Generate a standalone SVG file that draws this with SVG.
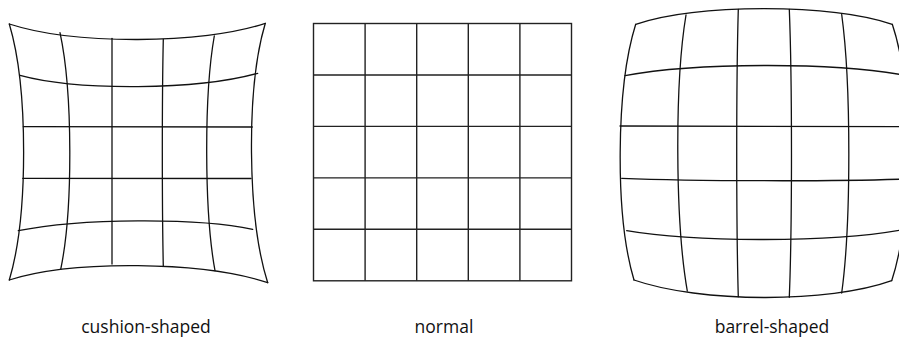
<svg xmlns="http://www.w3.org/2000/svg" width="899" height="338" viewBox="0 0 899 338">
<style>
.g{fill:none;stroke:#111;stroke-width:1.3;stroke-linecap:round}
.n{fill:none;stroke:#222;stroke-width:1.4}
.lbl{font-family:"Open Sans","Noto Sans",sans-serif;font-size:17.5px;fill:#111;text-anchor:middle}
</style>
<rect width="899" height="338" fill="#fff"/>
<g id="cushion">
<path class="g" d="M9.3,24 C74.2,45 202.2,44.6 265.3,23.3"/>
<path class="g" d="M20,75.3 C78.3,91.1 197.2,90.1 257.7,73.3"/>
<path class="g" d="M23.3,126.7 L252.3,127"/>
<path class="g" d="M22.7,178.3 L251,178.5"/>
<path class="g" d="M18.3,230.7 C80.2,218.1 197.4,217.4 252.7,229.3"/>
<path class="g" d="M9.3,280 C73.2,259.8 202.4,261.2 267.7,282.7"/>
<path class="g" d="M9.3,24 C28.4,88 28.4,216 9.3,280"/>
<path class="g" d="M60,32.7 C72.8,91.9 73.1,210.2 60.7,269.3"/>
<path class="g" d="M112,38.3 L112,264"/>
<path class="g" d="M163.3,39.3 C162,96 162,209 163.3,266"/>
<path class="g" d="M214.3,36 C203.9,94.7 204.2,212 215,270.7"/>
<path class="g" d="M265.3,23.3 C245.9,88.2 247.1,217.9 267.7,282.7"/>
</g>
<g id="normal">
<rect class="n" x="313.5" y="23.5" width="258" height="257.3"/>
<path class="n" d="M365.1,23.5V280.8M416.7,23.5V280.8M468.3,23.5V280.8M519.9,23.5V280.8M313.5,75H571.5M313.5,126.4H571.5M313.5,177.9H571.5M313.5,229.3H571.5"/>
</g>
<g id="barrel">
<path class="g" d="M635.7,24.3 C699.9,3.5 828.2,3.5 892.3,24.3"/>
<path class="g" d="M625,75.7 C694.5,62.4 833.5,62 903,75"/>
<path class="g" d="M620,126 L908,126.7"/>
<path class="g" d="M621.7,178.3 C692.9,181.2 835.2,181.6 906.3,179"/>
<path class="g" d="M626.7,230.7 C695.4,242.7 832.7,242.4 901.3,230"/>
<path class="g" d="M634,280 C699.9,303 828.8,303.4 891.7,280.7"/>
<path class="g" d="M635.7,24.3 C615.7,88.2 614.9,216.1 634,280"/>
<path class="g" d="M686,15 C674.5,84 675.2,222 687.3,291"/>
<path class="g" d="M738.3,9.3 C736.2,81.2 736.2,224.9 738.3,296.7"/>
<path class="g" d="M789.3,9.3 C792.2,81.3 792.2,225.3 789.3,297.3"/>
<path class="g" d="M841.7,14.5 C851.2,84.1 851.2,223.4 841.7,293"/>
<path class="g" d="M892.3,24.3 C913.6,88.4 913,216.6 891.7,280.7"/>
</g>
<g id="labels">
<text class="lbl" x="146" y="333.3">cushion-shaped</text>
<text class="lbl" x="444" y="333.3">normal</text>
<text class="lbl" x="772" y="333.3">barrel-shaped</text>
</g>
</svg>
